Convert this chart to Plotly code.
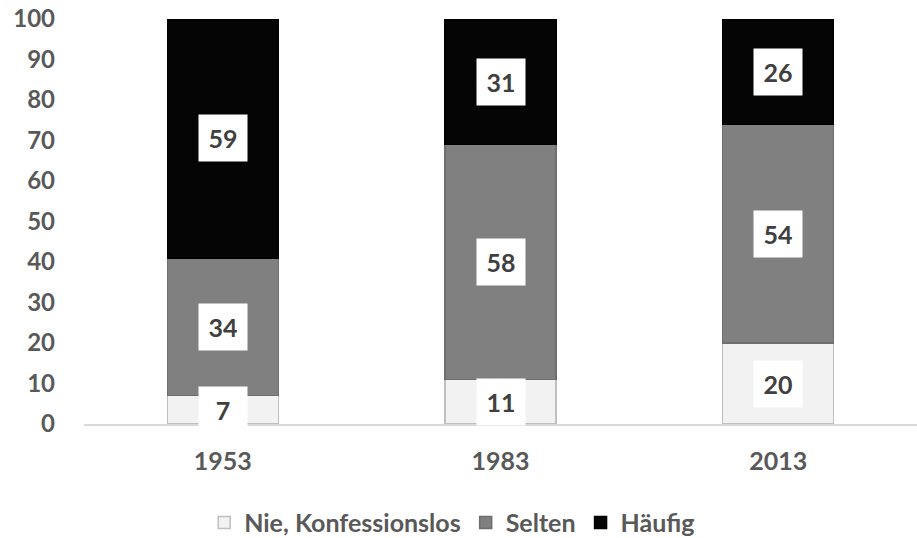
import plotly.graph_objects as go

# data
jahre = ['1953', '1983', '2013']
nie = [7, 11, 20]
selten = [34, 58, 54]
haeufig = [59, 31, 26]

serien = [
    ('Nie, Konfessionslos', nie, '#f2f2f2', '#bfbfbf'),
    ('Selten', selten, '#808080', '#6e6e6e'),
    ('Häufig', haeufig, '#050505', '#000000'),
]

grau = '#595959'
schrift = 'Lato'

fig = go.Figure()
for name, werte, farbe, rand in serien:
    fig.add_trace(go.Bar(x=jahre, y=werte, name=name, marker_color=farbe,
                         marker_line_color=rand, marker_line_width=1.5))

# value labels in white boxes (x as category index)
basis = [0, 0, 0]
for name, werte, farbe, rand in serien:
    for i in range(len(jahre)):
        fig.add_annotation(x=i, y=basis[i] + werte[i] / 2, text='<b>%d</b>' % werte[i],
                           showarrow=False, bgcolor='white', width=46, height=44,
                           font=dict(family=schrift, size=25, color='#404040'))
        basis[i] += werte[i]

fig.update_xaxes(type='category', range=[-0.5, 2.5], showgrid=False, showline=True,
                 linecolor='#d9d9d9', linewidth=1.5,
                 tickfont=dict(family=schrift, size=25, color=grau, weight='bold'), ticklabelstandoff=14)
fig.update_yaxes(range=[0, 100], dtick=10, showgrid=False, zeroline=False, showline=False,
                 tickfont=dict(family=schrift, size=24, color=grau, weight='bold'), ticklabelstandoff=28)
fig.update_layout(barmode='stack', bargap=0.6, width=917, height=538,
                  plot_bgcolor='white', paper_bgcolor='white',
                  margin=dict(l=84, r=0, t=19, b=114, autoexpand=False),
                  legend=dict(orientation='h', x=0.442, xanchor='center', y=-0.244, yanchor='middle',
                              font=dict(family=schrift, size=25, color=grau, weight='bold'),
                              itemwidth=30, traceorder='normal'))
fig.write_html('out.html', config={'displayModeBar': False},
               post_script="document.body.style.margin='0';")
